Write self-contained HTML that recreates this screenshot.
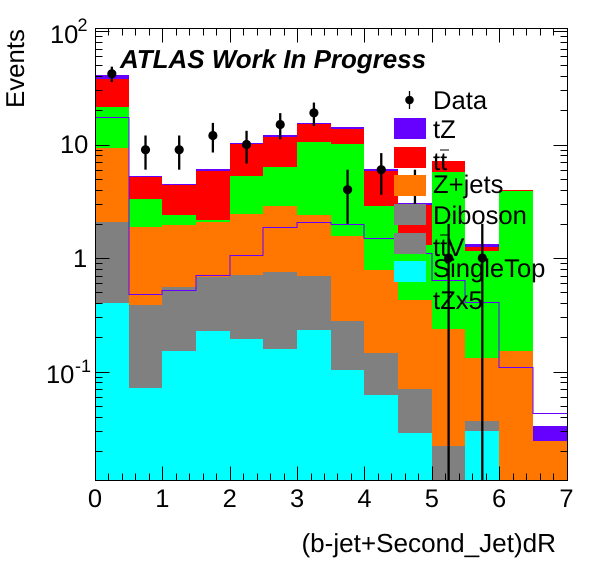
<!DOCTYPE html>
<html><head><meta charset="utf-8"><title>Events vs (b-jet+Second_Jet)dR</title>
<style>
html,body{margin:0;padding:0;background:#fff}
svg{display:block;font-family:"Liberation Sans",Arial,sans-serif;text-rendering:geometricPrecision}
text{fill:#000}
</style></head>
<body>
<svg id="chart" xmlns="http://www.w3.org/2000/svg" width="596" height="572" viewBox="0 0 596 572">
<g id="bars" shape-rendering="crispEdges"></g>
<path id="signalLine" fill="none" stroke="#6600ff" stroke-width="1" shape-rendering="crispEdges"></path>
<g id="points"></g>
<g id="axes" shape-rendering="crispEdges" stroke="#000" stroke-width="1"></g>
<g id="tickLabels"></g>
<text transform="translate(24,108) rotate(-90)" font-size="25.8">Events</text>
<text x="556" y="552" text-anchor="end" font-size="26.1">(b-jet+Second_Jet)dR</text>
<text x="120" y="68" font-size="25.95" font-weight="bold" font-style="italic">ATLAS Work In Progress</text>
<g font-size="25.6">
<g><line x1="409.5" x2="409.5" y1="91" y2="109" stroke="#000" stroke-width="1.3"></line><circle cx="409.5" cy="100" r="4.3" fill="#000"></circle><text x="433" y="109">Data</text></g>
<g><rect x="394" y="118" width="32" height="21" fill="#6600ff"></rect><text x="433" y="138">tZ</text></g>
<g><rect x="394" y="147" width="32" height="21" fill="#ff0000"></rect><text x="433" y="170">tt</text><line x1="440" x2="449" y1="150" y2="150" stroke="#000" stroke-width="1"></line></g>
<g><rect x="394" y="175" width="32" height="21" fill="#ff7700"></rect><text x="433" y="193">Z+jets</text></g>
<g><rect x="394" y="204" width="32" height="21" fill="#808080"></rect><text x="433" y="224">Diboson</text></g>
<g><rect x="394" y="233" width="32" height="21" fill="#808080"></rect><text x="433" y="256">ttV</text><line x1="440" x2="449" y1="235" y2="235" stroke="#000" stroke-width="1"></line></g>
<g><rect x="394" y="261" width="32" height="21" fill="#00ffff"></rect><text x="433" y="277">SingleTop</text></g>
<g><text x="433" y="309">tZx5</text></g>
</g>
</svg>
<script>
// Bin lower edges are 0, 0.5, ... 6.5
const binEdges = [0,0.5,1,1.5,2,2.5,3,3.5,4,4.5,5,5.5,6,6.5,7];
// Process yields per bin, bottom of stack first
const singleTop = [0.401,0.072,0.152,0.227,0.193,0.158,0.232,0.103,0.062,0.0287,0,0.0299,0,0];
const ttV       = [1.0,0.19,0.24,0.27,0.31,0.36,0.28,0.106,0.05,0.025,0.0132,0.004,0,0];
const diboson   = [0.68,0.123,0.163,0.187,0.205,0.239,0.186,0.07,0.0335,0.0164,0.0089,0.0027,0,0];
const zJets     = [7.23,1.491,1.399,1.392,1.732,2.113,1.692,1.281,0.6385,0.357,0.215,0.0954,0.152,0.0244];
const otherGreen= [12.09,1.434,0.436,0.084,2.84,3.47,8.11,8.54,2.086,0.873,5.483,1.018,3.738,0];
const ttbar     = [16.4,1.89,2.01,3.68,4.92,5.26,4.7,3.6,2.97,1.63,1.43,0.10,0.08,0];
const tZ        = [3.2,0.11,0.11,0.24,0.2,0.5,0.3,0.6,0.24,0.12,0.05,0.08,0.03,0.0087];
// Signal overlay (tZ x 5)
const tZx5      = [17.4,0.479,0.519,0.704,1.056,1.876,2.076,1.99,1.50,1.107,0.644,0.409,0.1096,0.0431];
// Observed data
const dataCounts = [42,9,9,12,10,15,19,4,6,4,1,1];
const dataErrors = [6.5,3,3,3.5,3.2,3.9,4.4,2,2.4,2,1,1];
// Axis ticks
const xTickLabels = [0,1,2,3,4,5,6,7];
const yDecades = [0.01,0.1,1,10,100];
const yMinorSteps = [2,3,4,5,6,7,8,9];

const plotL = 95, plotR = 566.5, plotT = 28, plotB = 480;
const Y1 = 258, DEC = 113.5;
const NS = 'http://www.w3.org/2000/svg';
function sx(v){ return plotL + v * (plotR - plotL) / 7; }
function sy(v){
  if (v <= 0) return plotB;
  return Math.min(plotB, Y1 - DEC * Math.log10(v));
}
function make(tag, attrs, parent){
  const el = document.createElementNS(NS, tag);
  for (const k in attrs) el.setAttribute(k, attrs[k]);
  parent.appendChild(el);
  return el;
}

// Stacked histogram: draw tallest cumulative layer first
const layerValues = [singleTop, ttV, diboson, zJets, otherGreen, ttbar, tZ];
const layerColors = ['#00ffff','#808080','#808080','#ff7700','#00ff00','#ff0000','#6600ff'];
const layerNames = ['singletop','ttv','diboson','zjets','green-component','ttbar','tz'];
const barsG = document.getElementById('bars');
const cumulative = [];
layerValues.forEach(function(vals, li){
  cumulative[li] = vals.map(function(v, i){ return v + (li ? cumulative[li-1][i] : 0); });
});
for (let li = layerValues.length - 1; li >= 0; li--) {
  for (let i = 0; i < binEdges.length - 1; i++) {
    if (layerValues[li][i] <= 0) continue;
    const top = Math.round(sy(cumulative[li][i]));
    const x0 = Math.round(sx(binEdges[i])), x1 = Math.round(sx(binEdges[i+1]));
    const r = make('rect', {x:x0, y:top, width:x1-x0, height:Math.max(0,plotB-top), fill:layerColors[li]}, barsG);
    
    
  }
}

// Signal step line
let d = '';
tZx5.forEach(function(v, i){
  const y = Math.round(sy(v)) + 0.5;
  d += (i ? 'L' : 'M') + Math.round(sx(binEdges[i])) + ' ' + y + 'L' + Math.round(sx(binEdges[i+1])) + ' ' + y;
});
document.getElementById('signalLine').setAttribute('d', d);

// Data points
const pointsG = document.getElementById('points');
dataCounts.forEach(function(n, i){
  const cx = sx((binEdges[i] + binEdges[i+1]) / 2);
  const hi = sy(n + dataErrors[i]), lo = sy(n - dataErrors[i]);
  const g = make('g', {}, pointsG);
  
  
  make('line', {x1:cx, x2:cx, y1:hi, y2:lo, stroke:'#000', 'stroke-width':2.3}, g);
  make('circle', {cx:cx, cy:sy(n), r:4.6, fill:'#000'}, g);
});

// Axes
const axesG = document.getElementById('axes');
function seg(x1, y1, x2, y2){
  make('line', {x1:x1, y1:y1, x2:x2, y2:y2}, axesG);
}
const fL = Math.round(plotL) + 0.5, fR = Math.round(plotR) + 0.5, fT = plotT + 0.5, fB = plotB + 0.5;
make('rect', {x:fL, y:fT, width:fR-fL, height:fB-fT, fill:'none'}, axesG);
for (let k = 0; k <= 35; k++) {
  const x = Math.round(sx(k * 0.2)) + 0.5;
  const len = k % 5 === 0 ? 14 : 7;
  seg(x, fB, x, fB - len);
  seg(x, fT, x, fT + len);
}
yDecades.forEach(function(dec){
  const yM = Math.round(Y1 - DEC * Math.log10(dec)) + 0.5;
  if (yM >= plotT && yM <= plotB) {
    seg(fL, yM, fL + 14, yM);
    seg(fR, yM, fR - 14, yM);
  }
  yMinorSteps.forEach(function(m){
    const y = Math.round(Y1 - DEC * Math.log10(dec * m)) + 0.5;
    if (y >= plotT && y <= plotB) {
      seg(fL, y, fL + 7, y);
      seg(fR, y, fR - 7, y);
    }
  });
});

// Tick labels
const tl = document.getElementById('tickLabels');
xTickLabels.forEach(function(v){
  const t = make('text', {x:sx(v), y:507, 'text-anchor':'middle', 'font-size':25.5}, tl);
  t.textContent = v;
  
  
});
</script>
<svg style="position:absolute;left:0;top:0" xmlns="http://www.w3.org/2000/svg" width="596" height="572">
<g><text x="50" y="43" font-size="25.5">10</text><text x="77.5" y="31" font-size="18">2</text></g>
<g><text x="60" y="153" font-size="25.5">10</text></g>
<g><text x="73" y="267" font-size="25.5">1</text></g>
<g><text x="46" y="383" font-size="25.5">10</text><text x="75" y="372" font-size="18">-1</text></g>
</svg>
</body></html>
